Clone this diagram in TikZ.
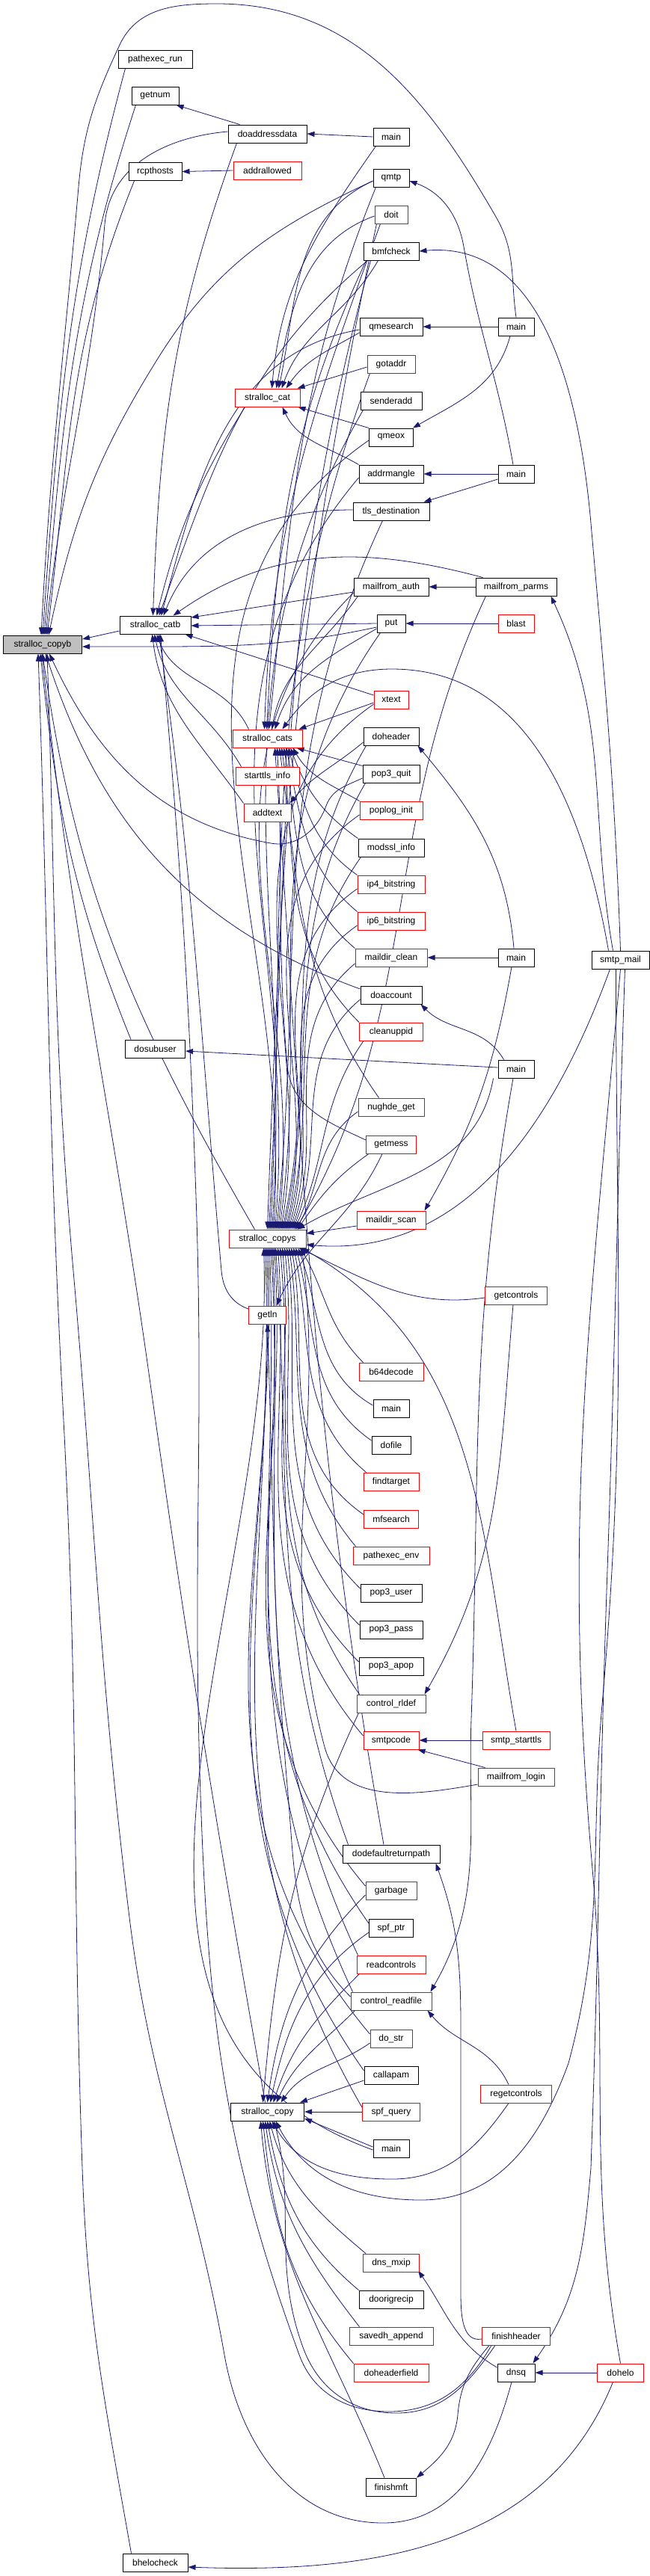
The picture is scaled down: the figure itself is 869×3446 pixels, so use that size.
\documentclass[tikz,border=0pt]{standalone}
\usepackage{fontspec}
\setmainfont{Liberation Sans}
\usetikzlibrary{arrows.meta}
\definecolor{edgec}{HTML}{191970}
\definecolor{nodegray}{HTML}{BFBFBF}
\pgfdeclarelayer{edgelayer}
\pgfsetlayers{edgelayer,main}
\newcommand\myE[4]{\draw[edg] (#1) to[out=#2,in=#3] (#4);}
\begin{document}
\begin{tikzpicture}[x=0.25pt,y=0.25pt,scale=4,
  shx/.style={xshift=#1/4},
  shy/.style={yshift=#1/4},
  nd/.style={rectangle, draw, line width=1pt, minimum height=24pt, inner xsep=2pt, inner ysep=0pt, fill=white, font=\fontsize{12}{14}\selectfont, text=black},
  bn/.style={nd, draw=black},
  rn/.style={nd, draw=red},
  edg/.style={draw=edgec, line width=0.8pt, {Triangle[length=10pt,width=7pt]}-}]
\useasboundingbox (0,0) rectangle (869,-3446);
% column 1-3
\node[bn, fill=nodegray, minimum width=105pt] (copyb) at (57,-862) {stralloc\_copyb};
\node[bn, minimum width=99pt] (pathexecrun) at (207.5,-79) {pathexec\_run};
\node[bn, minimum width=63pt] (getnum) at (207.5,-128) {getnum};
\node[bn, minimum width=71pt] (rcpthosts) at (207.5,-229.5) {rcpthosts};
\node[bn, minimum width=95pt] (catb) at (207.5,-836) {stralloc\_catb};
\node[bn, minimum width=80pt] (dosubuser) at (207.5,-1403) {dosubuser};
\node[bn, minimum width=87pt] (bhelocheck) at (207.5,-3428) {bhelocheck};
\node[bn, minimum width=105pt] (doaddressdata) at (357.5,-179) {doaddressdata};
\node[rn, minimum width=91pt] (addrallowed) at (357.5,-228) {addrallowed};
\node[rn, minimum width=87pt] (cat) at (357.5,-532) {stralloc\_cat};
\node[rn, minimum width=93pt] (cats) at (357.5,-988) {stralloc\_cats};
\node[rn, minimum width=85pt] (starttlsinfo) at (357.5,-1038) {starttls\_info};
\node[rn, minimum width=63pt] (addtext) at (357.5,-1087) {addtext};
\node[rn, minimum width=103pt] (copys) at (357.5,-1657) {stralloc\_copys};
\node[rn, minimum width=50pt] (getln) at (357.5,-1759) {getln};
\node[bn, minimum width=98pt] (copy) at (357.5,-2825) {stralloc\_copy};
% column 4
\node[bn, minimum width=48pt] (main1) at (523,-183) {main};
\node[bn, minimum width=48pt] (qmtp) at (523,-238) {qmtp};
\node[rn, minimum width=44pt] (doit) at (523,-287) {doit};
\node[bn, minimum width=74pt] (bmfcheck) at (523,-336) {bmfcheck};
\node[bn, minimum width=84pt] (qmesearch) at (523,-437) {qmesearch};
\node[rn, minimum width=64pt] (gotaddr) at (523,-487) {gotaddr};
\node[bn, minimum width=82pt] (senderadd) at (523,-536) {senderadd};
\node[bn, minimum width=59pt] (qmeox) at (523,-585) {qmeox};
\node[bn, minimum width=86pt] (addrmangle) at (523,-634) {addrmangle};
\node[bn, minimum width=102pt] (tlsdest) at (523,-684) {tls\_destination};
\node[bn, minimum width=100pt] (mfauth) at (523,-785) {mailfrom\_auth};
\node[bn, minimum width=38pt] (put) at (523,-834) {put};
\node[rn, minimum width=46pt] (xtext) at (523,-936) {xtext};
\node[bn, minimum width=74pt] (doheader) at (523,-985) {doheader};
\node[bn, minimum width=76pt] (pop3quit) at (523,-1035) {pop3\_quit};
\node[rn, minimum width=84pt] (poploginit) at (523,-1084) {poplog\_init};
\node[bn, minimum width=88pt] (modsslinfo) at (523,-1134) {modssl\_info};
\node[rn, minimum width=90pt] (ipfour) at (523,-1183) {ip4\_bitstring};
\node[rn, minimum width=90pt] (ipsix) at (523,-1232) {ip6\_bitstring};
\node[rn, minimum width=96pt] (mdclean) at (523,-1281) {maildir\_clean};
\node[bn, minimum width=82pt] (doaccount) at (523,-1331) {doaccount};
\node[rn, minimum width=85pt] (cleanuppid) at (523,-1380) {cleanuppid};
\node[rn, minimum width=88pt] (nughdeget) at (523,-1481) {nughde\_get};
\node[rn, minimum width=67pt] (getmess) at (523,-1531) {getmess};
\node[rn, minimum width=92pt] (mdscan) at (523,-1632) {maildir\_scan};
\node[rn, minimum width=86pt] (bsfd) at (523,-1835) {b64decode};
\node[bn, minimum width=48pt] (main6) at (523,-1884) {main};
\node[bn, minimum width=52pt] (dofile) at (523,-1933) {dofile};
\node[rn, minimum width=74pt] (findtarget) at (523,-1982) {findtarget};
\node[rn, minimum width=73pt] (mfsearch) at (523,-2032) {mfsearch};
\node[rn, minimum width=102pt] (pathexecenv) at (523,-2081) {pathexec\_env};
\node[bn, minimum width=82pt] (popuser) at (523,-2131) {pop3\_user};
\node[bn, minimum width=84pt] (poppass) at (523,-2180) {pop3\_pass};
\node[bn, minimum width=86pt] (popapop) at (523,-2229) {pop3\_apop};
\node[rn, minimum width=92pt] (rldef) at (523,-2279) {control\_rldef};
\node[rn, minimum width=74pt] (smtpcode) at (523,-2328) {smtpcode};
\node[bn, minimum width=130pt] (ddrp) at (523,-2480) {dodefaultreturnpath};
\node[rn, minimum width=68pt] (garbage) at (523,-2529) {garbage};
\node[bn, minimum width=59pt] (spfptr) at (523,-2579) {spf\_ptr};
\node[rn, minimum width=92pt] (readcontrols) at (523,-2628) {readcontrols};
\node[rn, minimum width=108pt] (readfile) at (523,-2677) {control\_readfile};
\node[rn, minimum width=56pt] (dostr) at (523,-2727) {do\_str};
\node[bn, minimum width=72pt] (callapam) at (523,-2776) {callapam};
\node[rn, minimum width=77pt] (spfquery) at (523,-2825) {spf\_query};
\node[bn, minimum width=48pt] (main7) at (523,-2874) {main};
\node[rn, minimum width=75pt] (dnsmxip) at (523,-3027) {dns\_mxip};
\node[bn, minimum width=86pt] (doorigrecip) at (523,-3076) {doorigrecip};
\node[rn, minimum width=112pt] (savedh) at (523,-3125) {savedh\_append};
\node[rn, minimum width=100pt] (dohf) at (523,-3174) {doheaderfield};
\node[bn, minimum width=67pt] (finishmft) at (523,-3327) {finishmft};
% column 5
\node[bn, minimum width=48pt] (main2) at (690,-437) {main};
\node[bn, minimum width=48pt] (main3) at (690,-634) {main};
\node[bn, minimum width=108pt] (mfparms) at (690,-785) {mailfrom\_parms};
\node[rn, minimum width=48pt] (blast) at (690,-834) {blast};
\node[bn, minimum width=48pt] (main4) at (690,-1281) {main};
\node[bn, minimum width=48pt] (main5) at (690,-1430) {main};
\node[rn, minimum width=83pt] (getcontrols) at (690,-1733) {getcontrols};
\node[rn, minimum width=90pt] (starttls) at (690,-2328) {smtp\_starttls};
\node[rn, minimum width=102pt] (mflogin) at (690,-2377) {mailfrom\_login};
\node[rn, minimum width=95pt] (regetcontrols) at (690,-2801) {regetcontrols};
\node[rn, minimum width=91pt] (finishheader) at (690,-3125) {finishheader};
\node[bn, minimum width=50pt] (dnsq) at (690,-3174) {dnsq};
% column 6
\node[bn, minimum width=77pt] (smtpmail) at (829.5,-1284) {smtp\_mail};
\node[rn, minimum width=62pt] (dohelo) at (829.5,-3174) {dohelo};

\begin{pgfonlayer}{edgelayer}
% ---- into stralloc_copyb
\draw[edg] ([shx=-2]copyb.north) to[out=87,in=-95] (105,-250) to[out=85,in=-115] (160,-60) to[out=65,in=180] (290,-5) to[out=0,in=120] (663,-290) to[out=-60,in=98] (main2.north);
\myE{copyb.north}{86}{-105}{[shx=10]pathexecrun.south west}
\myE{[shx=2]copyb.north}{85}{-108}{[shx=6]getnum.south west}
\draw[edg] ([shx=4]copyb.north) to[out=84,in=-95] (140,-300) to[out=85,in=185] ([shy=3]doaddressdata.west);
\myE{[shx=6]copyb.north}{83}{-112}{[shx=8]rcpthosts.south west}
\draw[edg] ([shx=8]copyb.north) to[out=78,in=-122] (212,-478) to[out=58,in=205] ([shy=-4]qmtp.west);
\draw[edg] ([shy=7]copyb.east) -- ([shy=-8]catb.west);
\draw[edg] ([shy=-3]copyb.east) -- (200,-865) to[out=0,in=192] ([shy=-5]put.west);
\myE{[shx=-3]copyb.south}{-84}{112}{[shx=8]dosubuser.north west}
\draw[edg] ([shx=-6]copyb.south) to[out=-88,in=93] (85,-1900) to[out=-87,in=92] (110,-2900) to[out=-88,in=100] ([shx=12]bhelocheck.north west);
\myE{copyb.south}{-82}{120}{[shx=35]copys.north west}
\myE{[shx=4]copyb.south}{-72}{160}{[shy=8]doaccount.west}
\draw[edg] ([shx=6]copyb.south) to[out=-88,in=95] (98,-1700) to[out=-85,in=97] (173,-2565) to[out=-83,in=100] (300,-3150) to[out=-80,in=180] (512,-3375) to[out=0,in=-105] ([shx=-6]dnsq.south);
\draw[edg] ([shx=-1]copyb.south) to[out=-84,in=98] (200,-1844) to[out=-82,in=100] ([shx=-3]copy.north);
\draw[edg] ([shx=9]copyb.south) to[out=-65,in=170] (362,-1128) to[out=-10,in=-110] (436,-1078) to[out=70,in=205] ([shy=-6]pop3quit.west);
% ---- into stralloc_catb
\myE{[shx=-3]catb.north}{88}{-110}{[shx=12]doaddressdata.south west}
\myE{[shx=2]catb.north}{76}{-122}{[shx=14]cat.south west}
\myE{[shx=5]catb.north}{70}{-140}{[shx=6]bmfcheck.south west}
\myE{[shx=8]catb.north}{75}{190}{[shy=-4]qmesearch.west}
\myE{[shx=11]catb.north}{68}{180}{[shy=2]tlsdest.west}
\myE{[shx=24]catb.north}{35}{165}{[shx=10]mfparms.north west}
\draw[edg] ([shy=10]catb.east) -- ([shy=-7]mfauth.west);
\draw[edg] ([shy=-1]catb.east) -- (put.west);
\draw[edg] ([shx=-8]catb.south east) -- ([shy=6]xtext.west);
\myE{[shx=2]catb.south}{-70}{115}{[shx=22]cats.north west}
\myE{[shx=-1]catb.south}{-78}{120}{[shx=8]starttlsinfo.north west}
\myE{[shx=-4]catb.south}{-83}{125}{addtext.north west}
\draw[edg] ([shx=5]catb.south) to[out=-82,in=95] (296,-1700) to[out=-85,in=160] ([shy=8]getln.west);
\draw[edg] ([shx=7]catb.south) to[out=-85,in=92] (262,-1600) to[out=-88,in=92] (268,-2400) to[out=-88,in=110] (400,-3150) to[out=-70,in=180] (520,-3226) to[out=0,in=-120] ([shx=-33]finishheader.south);
% ---- into stralloc_cat
\myE{[shx=6]cat.north}{85}{235}{[shx=4]main1.south west}
\myE{[shx=12]cat.north}{80}{200}{[shy=-2]doit.west}
\myE{[shx=15]cat.north}{78}{205}{[shy=-4]qmtp.west}
\myE{[shx=19]cat.north}{70}{-120}{[shx=20]bmfcheck.south west}
\myE{[shx=25]cat.north}{55}{210}{[shy=-8]qmesearch.west}
\draw[edg] ([shx=-4]cat.north east) -- ([shy=-4]gotaddr.west);
\draw[edg] ([shx=-3]cat.south east) -- (qmeox.north west);
\myE{[shx=20]cat.south}{-65}{150}{addrmangle.north west}
% ---- into stralloc_cats
\draw[edg] ([shx=-5]cats.north east) -- ([shy=-4]xtext.west);
\draw[edg] ([shx=20]cats.north) to[out=55,in=180] (524,-895) to[out=0,in=100] ([shx=-16]smtpmail.north);
\myE{[shx=-4]cats.north}{88}{250}{[shx=8]doit.south west}
\myE{[shx=-1]cats.north}{87}{245}{[shx=4]bmfcheck.south west}
\myE{[shx=2]cats.north}{84}{248}{[shx=4]qmtp.south west}
\myE{[shx=6]cats.north}{80}{235}{[shx=6]mfauth.south west}
\myE{[shx=10]cats.north}{72}{210}{[shy=-7]put.west}
\draw[edg] ([shx=-8]cats.south east) -- ([shy=-2]pop3quit.north west);
\myE{[shx=-13]cats.south east}{-60}{150}{poploginit.north west}
\myE{[shx=-16]cats.south east}{-70}{145}{modsslinfo.north west}
\myE{[shx=-19]cats.south east}{-75}{145}{ipfour.north west}
\myE{[shx=-22]cats.south east}{-78}{140}{ipsix.north west}
\myE{[shx=-25]cats.south east}{-80}{140}{mdclean.north west}
\myE{[shx=-28]cats.south east}{-82}{135}{cleanuppid.north west}
\myE{[shx=-31]cats.south east}{-82}{125}{[shx=28]nughdeget.north west}
\draw[edg] ([shx=-34]cats.south east) to[out=-87,in=95] (384,-1425) to[out=-85,in=155] ([shy=6]getmess.west);
\myE{[shx=-37]cats.south east}{-86}{100}{[shx=-10]ddrp.north}
% ---- into stralloc_copys (from above)
\myE{copys.north}{88}{258}{[shx=3]doit.south west}
\myE{[shx=2]copys.north}{87}{255}{[shx=10]bmfcheck.south west}
\myE{[shx=4]copys.north}{87}{250}{[shx=4]gotaddr.south west}
\myE{[shx=6]copys.north}{86}{240}{[shx=4]senderadd.south west}
\myE{[shx=8]copys.north}{86}{215}{[shy=-4]qmeox.west}
\myE{[shx=10]copys.north}{85}{230}{[shy=-5]addrmangle.west}
\myE{[shx=12]copys.north}{84}{245}{[shx=40]tlsdest.south west}
\myE{[shx=14]copys.north}{83}{225}{[shy=-8]mfauth.west}
\myE{[shx=-14]copys.north east}{60}{-115}{[shx=14]mfparms.south west}
\myE{[shx=16]copys.north}{82}{235}{[shx=5]put.south west}
\myE{[shx=18]copys.north}{80}{215}{[shy=-6]xtext.west}
\myE{[shx=20]copys.north}{78}{240}{[shx=4]doheader.south west}
\myE{[shx=22]copys.north}{78}{240}{[shx=4]pop3quit.south west}
\myE{[shx=24]copys.north}{76}{215}{[shy=-6]poploginit.west}
\myE{[shx=26]copys.north}{76}{235}{[shx=4]modsslinfo.south west}
\myE{[shx=28]copys.north}{74}{215}{[shy=-6]ipfour.west}
\myE{[shx=30]copys.north}{72}{215}{[shy=-6]ipsix.west}
\myE{[shx=32]copys.north}{70}{220}{[shy=-8]mdclean.west}
\myE{[shx=34]copys.north}{68}{220}{[shy=-6]doaccount.west}
\myE{[shx=36]copys.north}{65}{235}{[shx=6]cleanuppid.south west}
\myE{[shx=38]copys.north}{60}{215}{[shy=-6]nughdeget.west}
\myE{[shx=40]copys.north}{55}{215}{[shx=4]getmess.south west}
% ---- into stralloc_copys (right)
\draw[edg] ([shy=7]copys.east) -- ([shy=-8]mdscan.west);
\myE{[shx=-12]copys.north east}{30}{-100}{[shx=-6]main5.south west}
\myE{[shy=-8]copys.east}{-5}{-110}{[shx=-14]smtpmail.south}
\myE{[shx=-10]copys.south east}{-25}{188}{[shy=-3]getcontrols.west}
% ---- into stralloc_copys (from below)
\myE{[shx=44]copys.south}{-60}{135}{[shx=6]bsfd.north west}
\myE{[shx=41]copys.south}{-70}{150}{[shy=4]main6.west}
\myE{[shx=38]copys.south}{-75}{145}{[shy=6]dofile.west}
\myE{[shx=35]copys.south}{-78}{140}{[shx=4]findtarget.north west}
\myE{[shx=32]copys.south}{-80}{145}{[shy=6]mfsearch.west}
\myE{[shx=29]copys.south}{-82}{130}{[shx=4]pathexecenv.north west}
\myE{[shx=26]copys.south}{-83}{135}{[shy=6]popuser.west}
\myE{[shx=23]copys.south}{-84}{135}{[shy=6]poppass.west}
\myE{[shx=20]copys.south}{-85}{135}{[shy=6]popapop.west}
\myE{[shx=17]copys.south}{-85}{125}{[shx=4]rldef.north west}
\myE{[shx=14]copys.south}{-86}{130}{[shy=6]smtpcode.west}
\myE{[shx=11]copys.south}{-86}{110}{[shx=8]ddrp.north west}
\myE{[shx=9]copys.south}{-86}{130}{[shy=6]garbage.west}
\myE{[shx=7]copys.south}{-87}{125}{[shy=6]spfptr.west}
\myE{[shx=5]copys.south}{-87}{115}{[shx=2]readcontrols.north west}
\myE{[shx=3]copys.south}{-88}{115}{[shx=3]readfile.north west}
\myE{[shx=1]copys.south}{-88}{130}{[shy=6]dostr.west}
\myE{[shx=-1]copys.south}{-88}{125}{[shy=6]callapam.west}
\myE{[shx=-3]copys.south}{-88}{120}{[shy=6]spfquery.west}
\myE{[shx=-5]copys.south}{-88}{160}{[shy=-2]main7.west}
\myE{[shx=-6]copys.south east}{-30}{100}{starttls.north}
\draw[edg] ([shx=46]copys.south) to[out=-83,in=105] (434,-2337) to[out=-75,in=190] ([shy=-10]mflogin.west);
% ---- into stralloc_copy
\myE{[shx=-6]copy.north}{85}{245}{[shx=3]rldef.south west}
\myE{copy.north}{82}{225}{[shy=-6]garbage.west}
\myE{[shx=4]copy.north}{78}{215}{[shy=-6]spfptr.west}
\myE{[shx=8]copy.north}{72}{225}{[shx=4]readcontrols.south west}
\myE{[shx=12]copy.north}{65}{225}{[shx=6]readfile.south west}
\myE{[shx=18]copy.north}{55}{215}{[shy=-6]dostr.west}
\draw[edg] ([shx=-6]copy.north east) -- ([shy=-7]callapam.west);
\draw[edg] (copy.east) -- (spfquery.west);
\draw[edg] ([shy=-9]copy.east) -- ([shy=2]main7.west);
\draw[edg] ([shx=6]copy.south) to[out=-60,in=180] (524,-2915) to[out=0,in=-125] ([shx=-10]regetcontrols.south);
\draw[edg] ([shx=11]copy.south) to[out=-62,in=180] (563,-2943) to[out=0,in=-110] (760,-2760) to[out=75,in=-95] (805,-2280) to[out=85,in=-90] ([shx=-6]smtpmail.south);
\myE{[shx=3]copy.south}{-75}{140}{[shx=4]dnsmxip.north west}
\myE{copy.south}{-80}{140}{doorigrecip.north west}
\myE{[shx=-3]copy.south}{-82}{128}{[shx=14]savedh.north west}
\myE{[shx=-6]copy.south}{-84}{130}{dohf.north west}
\myE{[shx=-9]copy.south}{-85}{112}{[shx=25]finishmft.north west}
\draw[edg] ([shx=9]copy.south) to[out=-76,in=110] (405,-3140) to[out=-70,in=180] (530,-3228) to[out=0,in=-125] ([shx=-28]finishheader.south);
% ---- other calls
\draw[edg] ([shx=-4]getnum.south east) -- ([shx=16]doaddressdata.north west);
\draw[edg] (doaddressdata.east) -- (main1.west);
\draw[edg] (rcpthosts.east) -- (addrallowed.west);
\draw[edg] (qmesearch.east) -- (main2.west);
\myE{[shx=-1]qmeox.north east}{30}{-105}{[shx=-8]main2.south}
\draw[edg] (addrmangle.east) -- (main3.west);
\draw[edg] ([shx=-8]tlsdest.north east) -- ([shy=-7]main3.west);
\draw[edg] ([shy=-4]qmtp.east) to[out=-20,in=100] (620,-330) to[out=-80,in=100] ([shx=-4]main3.north);
\draw[edg] (mfauth.east) -- (mfparms.west);
\myE{[shx=-8]mfparms.south east}{-65}{100}{[shx=-10]smtpmail.north}
\draw[edg] (bmfcheck.east) to[out=5,in=95] (790,-700) to[out=-85,in=92] (smtpmail.north) -- (smtpmail.south) to[out=-95,in=95] (792,-2500) to[out=-85,in=100] (dohelo.north);
\draw[edg] ([shx=-3]dnsq.north east) to[out=55,in=-95] (790,-2900) to[out=88,in=-92] (812,-2100) to[out=88,in=-92] ([shx=6]smtpmail.south);
\draw[edg] (dnsq.east) -- (dohelo.west);
\myE{[shy=-6]bhelocheck.east}{-2}{-112}{[shx=-10]dohelo.south}
\myE{[shx=-2,shy=2]dnsmxip.south east}{-55}{150}{[shy=7]dnsq.west}
\draw[edg] (mdclean.east) -- (main4.west);
\myE{[shx=-2]doheader.south east}{-50}{95}{[shx=-3]main4.north}
\myE{[shx=-2]mdscan.north east}{60}{-100}{[shx=-6]main4.south}
\myE{[shx=-2]doaccount.south east}{-45}{120}{[shx=8]main5.north west}
\draw[edg] ([shy=-3]dosubuser.east) -- ([shy=2]main5.west);
\draw[edg] ([shx=-2]readfile.north east) to[out=60,in=-92] (630,-2300) to[out=88,in=-100] ([shx=-4]main5.south);
\myE{[shx=-2]rldef.north east}{60}{-95}{[shx=-4]getcontrols.south}
\draw[edg] (smtpcode.east) -- (starttls.west);
\draw[edg] ([shx=-2]smtpcode.south east) -- ([shx=10]mflogin.north west);
\myE{[shx=-6]readfile.south east}{-50}{115}{[shx=-10]regetcontrols.north}
\draw[edg] (put.east) -- (blast.west);
\myE{[shx=-2]addtext.north east}{50}{220}{[shy=-8]doheader.west}
\myE{[shx=12]getln.north}{65}{-115}{[shx=-12]getmess.south}
\draw[edg] (getln.south) to[out=-88,in=95] (385,-2400) to[out=-85,in=135] ([shy=6]readfile.west);
\draw[edg] (finishmft.north east) to[out=40,in=-95] (612,-3230) to[out=85,in=-130] ([shx=-36]finishheader.south);
\draw[edg] ([shx=-6]ddrp.south east) to[out=-70,in=90] (616,-2760) -- (616,-3060) to[out=-90,in=190] ([shy=-4]finishheader.west);
\end{pgfonlayer}
\end{tikzpicture}
\end{document}
